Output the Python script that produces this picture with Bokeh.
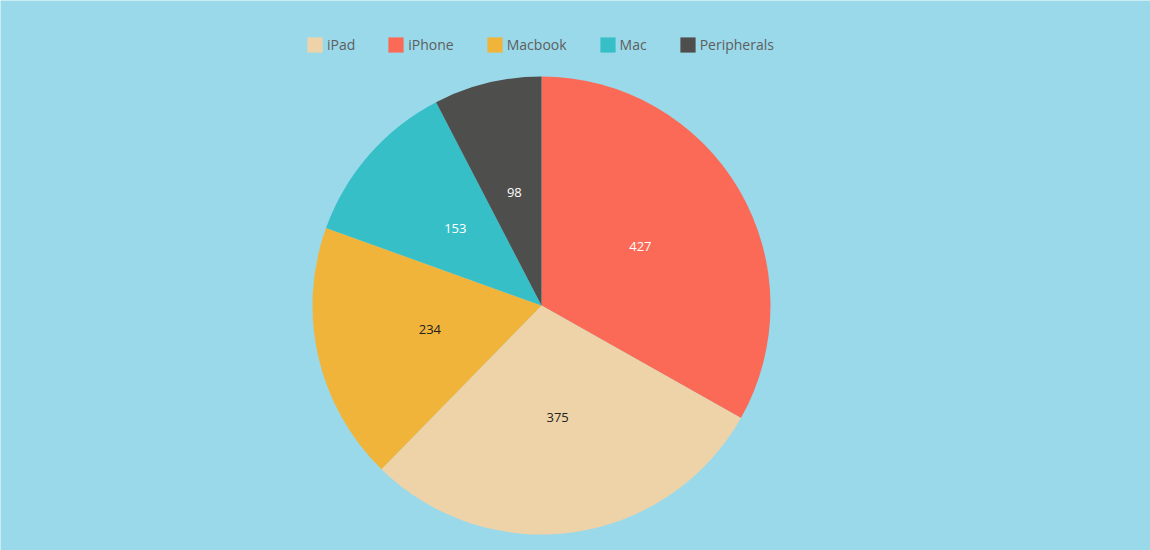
import math
from bokeh.plotting import figure
from bokeh.models import Range1d, Legend, LegendItem
from bokeh.core.properties import value
from bokeh.embed import file_html
from bokeh.resources import INLINE

categories = ["iPad", "iPhone", "Macbook", "Mac", "Peripherals"]
values = [375, 427, 234, 153, 98]
colors = ["#EFD3A8", "#FB6A56", "#F1B43B", "#37BFC8", "#4E4E4C"]
label_colors = ["#222222", "#FFFFFF", "#222222", "#FFFFFF", "#FFFFFF"]
pie_order = ["iPhone", "iPad", "Macbook", "Mac", "Peripherals"]

W, H = 1150, 550
BG = "#9AD9EA"
FONT = "Open Sans"

p = figure(width=W, height=H, x_range=Range1d(0, W), y_range=Range1d(0, H),
           output_backend="svg", toolbar_location=None, min_border=0)
p.axis.visible = False
p.grid.visible = False
p.outline_line_color = None
p.background_fill_color = BG
p.border_fill_color = BG

cx, cy, r = 541, 245, 229
total = sum(values)
start = 0.0
renderers = {}
for name in pie_order:
    i = categories.index(name)
    frac = values[i] / total
    a0 = start * 2 * math.pi
    a1 = (start + frac) * 2 * math.pi
    start += frac
    rend = p.wedge(x=cx, y=cy, radius=r,
                   start_angle=math.pi / 2 - a1, end_angle=math.pi / 2 - a0,
                   fill_color=colors[i], line_color=None)
    renderers[name] = rend
    mid = (a0 + a1) / 2
    p.text(x=[cx + 0.5 * r * math.sin(mid)], y=[cy + 0.5 * r * math.cos(mid)],
           text=[str(values[i])], text_align="center", text_baseline="middle",
           y_offset=-1.5,
           text_font=value(FONT), text_font_size="13px", text_color=label_colors[i])

legend = Legend(items=[LegendItem(label=c, renderers=[renderers[c]]) for c in categories],
                orientation="horizontal", location=(305, 496), spacing=31,
                label_standoff=3, glyph_width=19, glyph_height=19, label_height=19,
                padding=0, margin=0, border_line_color=None, background_fill_alpha=0,
                label_text_font_size="14px", label_text_color="#5E5E5E",
                label_text_font=FONT)
p.add_layout(legend)

open("out.html", "w").write(file_html(p, INLINE))
